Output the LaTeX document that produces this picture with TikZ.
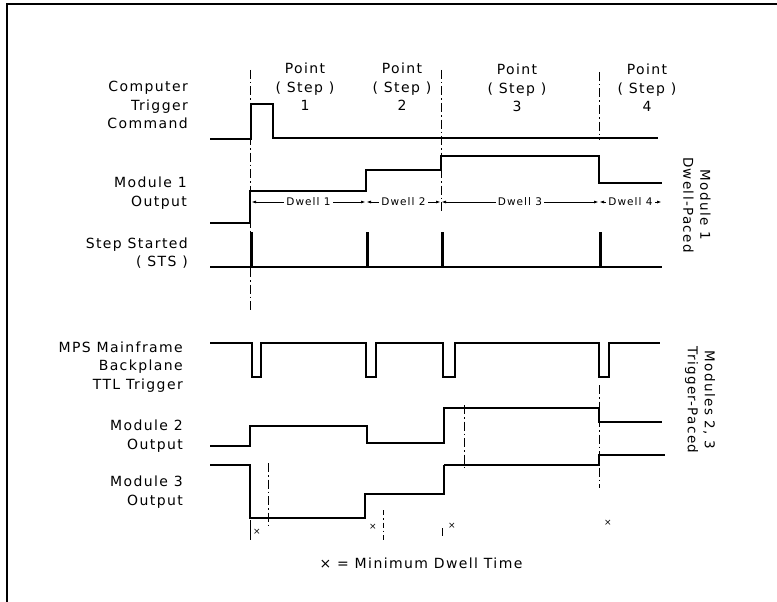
\documentclass[tikz,border=0pt]{standalone}
\usepackage{fontspec}
\setmainfont{DejaVu Sans}[LetterSpace=10]
\usetikzlibrary{arrows.meta}

\begin{document}
\begin{tikzpicture}[x=1pt,y=-1pt,
  sig/.style={line width=2.1pt, line join=miter},
  thinsig/.style={line width=1.3pt},
  guide/.style={line width=1pt, dash pattern=on 9pt off 3pt on 1.5pt off 3pt},
  dwell/.style={line width=1pt, {Latex[length=5pt,width=3pt]}-{Latex[length=5pt,width=3pt]}},
  lab/.style={align=right, anchor=east, inner sep=0pt, font=\fontsize{14}{18.5}\selectfont},
  steplab/.style={align=center, inner sep=0pt, font=\fontsize{14}{18.5}\selectfont},
  sidelab/.style={align=center, inner sep=0pt, rotate=-90, font=\fontsize{13.5}{17}\selectfont},
  dlab/.style={fill=white, inner sep=2pt, font=\fontsize{10.5}{12}\selectfont},
  mindwell/.style={inner sep=0pt, font=\fontsize{9}{9}\selectfont}]
			\useasboundingbox (0,0) rectangle (777,602);
			% frame
			\draw[line width=1.3pt] (7,602) -- (7,4) -- (777,4);
			% row labels
			\node[lab] (ctc) at (188,105) {Computer\\Trigger\\Command};
			\node[lab] (m1lab) at (187,193) {Module 1\\Output};
			\node[lab] (stslab) at (188,253) {Step Started\\( STS )};
			\node[lab] (ttllab) at (183,367) {MPS Mainframe\\Backplane\\TTL Trigger};
			\node[lab] (m2lab) at (183,436) {Module 2\\Output};
			\node[lab] (m3lab) at (183,492) {Module 3\\Output};
			% step headings
			\node[steplab] (p1) at (305,87) {Point\\( Step )\\1};
			\node[steplab] (p2) at (402,87) {Point\\( Step )\\2};
			\node[steplab] (p3) at (517,88) {Point\\( Step )\\3};
			\node[steplab] (p4) at (647,88) {Point\\( Step )\\4};
			% side labels
			\node[sidelab] (side1) at (697,205) {Module 1\\Dwell-Paced};
			\node[sidelab] (side2) at (700,400) {Modules 2, 3\\Trigger-Paced};
			% guide lines
			\draw[guide] (250,70) -- (250,310);
			\draw[guide] (441,70) -- (441,213);
			\draw[guide] (599,72) -- (599,140);
			\draw[guide] (464,405) -- (464,467);
			\draw[guide] (599,385) -- (599,488);
			\draw[guide] (268,463) -- (268,528);
			\draw[line width=1pt, dash pattern=on 5pt off 3pt on 1.5pt off 3pt] (383,510) -- (383,542);
			\draw[line width=1pt] (250,520) -- (250,540);
			\draw[line width=1pt] (442,528) -- (442,536);
			% computer trigger
			\draw[sig] (210,139) -- (251,139) -- (251,104) -- (273,104) -- (273,138) -- (500,138);
			\draw[thinsig] (500,138) -- (658,138);
			% module 1 output
			\draw[sig] (210,223) -- (250,223) -- (250,191) -- (366,191) -- (366,170) -- (441,170)
			  -- (441,156) -- (599,156) -- (599,183) -- (662,183);
			% dwell times
			\draw[dwell] (251,202) -- (366,202) node[midway, dlab] (d1) {Dwell 1};
			\draw[dwell] (366,202) -- (441,202) node[midway, dlab] (d2) {Dwell 2};
			\draw[dwell] (441,202) -- (599,202) node[midway, dlab] (d3) {Dwell 3};
			\draw[dwell] (599,202) -- (662,202) node[midway, dlab] (d4) {Dwell 4};
			% step started
			\draw[sig] (210,267) -- (662,267);
			\foreach \t in {251,367,442,600} \draw[line width=3pt] (\t,267) -- (\t,232);
			% backplane trigger
			\draw[sig] (210,343) -- (252,343) -- (252,377) -- (261,377) -- (261,343)
			  -- (366,343) -- (366,377) -- (376,377) -- (376,343)
			  -- (443,343) -- (443,377) -- (455,377) -- (455,343)
			  -- (599,343) -- (599,377) -- (609,377) -- (609,343) -- (660,343);
			% module 2 output
			\draw[sig] (210,446) -- (250,446) -- (250,426) -- (367,426) -- (367,443) -- (444,443)
			  -- (444,408) -- (599,408);
			\draw[thinsig] (599,408) -- (599,422) -- (662,422);
			% module 3 output
			\draw[sig] (210,465) -- (250,465) -- (250,518) -- (365,518) -- (365,494) -- (444,494)
			  -- (444,465);
			\draw[thinsig] (444,465) -- (599,465) -- (599,455) -- (665,455);
			% minimum dwell marks
			\foreach \x/\y [count=\i] in {257/532,373/527,452/526,608/523}
			  \node[mindwell] (x\i) at (\x,\y) {×};
			\node[inner sep=0pt, font=\fontsize{14}{15}\selectfont] (key) at (421,563) {× = Minimum Dwell Time};
		\end{tikzpicture}
\end{document}
